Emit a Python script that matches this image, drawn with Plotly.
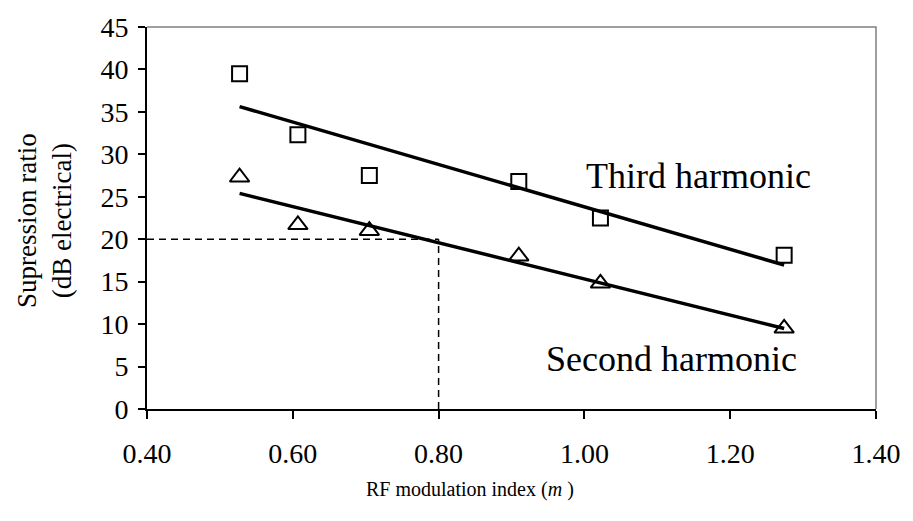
import numpy as np
import plotly.graph_objects as go

# Measured suppression ratio vs RF modulation index
m_index = [0.527, 0.607, 0.705, 0.910, 1.022, 1.274]
third_harmonic = [39.5, 32.3, 27.5, 26.8, 22.5, 18.1]
second_harmonic = [27.3, 21.7, 21.0, 18.0, 14.8, 9.5]

# Operating-point guide (20 dB suppression at m = 0.80)
guide_ratio = 20
guide_m = 0.80

x_ticks = [0.40, 0.60, 0.80, 1.00, 1.20, 1.40]
y_ticks = [0, 5, 10, 15, 20, 25, 30, 35, 40, 45]

FONT = "Liberation Serif"
W, H = 913, 521
ML, MR, MT, MB = 147, 37, 19, 112

fig = go.Figure()


def linear_fit(x, y):
    slope, intercept = np.polyfit(x, y, 1)
    xs = [min(x), max(x)]
    return xs, [slope * v + intercept for v in xs]


# Dashed guide lines
dash = dict(color="black", width=1.5, dash="7px,5px")
fig.add_trace(go.Scatter(x=[x_ticks[0], guide_m], y=[guide_ratio, guide_ratio],
                         mode="lines", line=dash, hoverinfo="skip"))
fig.add_trace(go.Scatter(x=[guide_m, guide_m], y=[y_ticks[0], guide_ratio],
                         mode="lines", line=dash, hoverinfo="skip"))

# Least-squares trend lines
for ys in (third_harmonic, second_harmonic):
    fx, fy = linear_fit(m_index, ys)
    fig.add_trace(go.Scatter(x=fx, y=fy, mode="lines",
                             line=dict(color="black", width=3.5)))

# Data points
fig.add_trace(go.Scatter(
    x=m_index, y=third_harmonic, mode="markers", name="Third harmonic",
    marker=dict(symbol="square-open", size=15, color="black",
                line=dict(width=2, color="black"))))
fig.add_trace(go.Scatter(
    x=m_index, y=second_harmonic, mode="markers", name="Second harmonic",
    marker=dict(symbol="triangle-up-open", size=17, color="black",
                line=dict(width=2, color="black"))))

# Gray frame on top and right of the plotting area
fig.add_shape(type="path", xref="x domain", yref="y domain",
              path="M 0 1 L 1 1 L 1 0", line=dict(color="#808080", width=1.5))

axis_style = dict(showgrid=False, zeroline=False, showline=True,
                  linecolor="black", linewidth=2, ticks="outside",
                  tickwidth=2, tickcolor="black",
                  tickfont=dict(size=28, family=FONT, color="black"))

plot_w = W - ML - MR
plot_h = H - MT - MB


def px_to_paper(px, py):
    return (px - ML) / plot_w, (H - MB - py) / plot_h


xt_x, xt_y = px_to_paper(470, 491)
yt_x, yt_y = px_to_paper(45, 217)

fig.update_layout(
    width=W, height=H,
    margin=dict(l=ML, r=MR, t=MT, b=MB),
    paper_bgcolor="white", plot_bgcolor="white",
    showlegend=False,
    font=dict(family=FONT, color="black", size=26),
    xaxis=dict(range=[0.4, 1.4], tickvals=x_ticks, tickformat=".2f",
               ticklen=8, ticklabelstandoff=10, **axis_style),
    yaxis=dict(range=[0, 45], tickvals=y_ticks,
               ticklen=7, ticklabelstandoff=4, **axis_style),
    annotations=[
        dict(text="Third harmonic", x=1.157, y=27.4, xref="x", yref="y",
             xanchor="center", yanchor="middle", showarrow=False,
             font=dict(size=36)),
        dict(text="Second harmonic", x=1.119, y=5.9, xref="x", yref="y",
             xanchor="center", yanchor="middle", showarrow=False,
             font=dict(size=36)),
        dict(text="RF modulation index (<i>m</i> )", x=xt_x, y=xt_y,
             xref="paper", yref="paper", xanchor="center", yanchor="middle",
             showarrow=False, font=dict(size=20)),
        dict(text="Supression ratio<br>(dB electrical)", x=yt_x, y=yt_y,
             xref="paper", yref="paper", xanchor="center", yanchor="middle",
             showarrow=False, textangle=-90, font=dict(size=27)),
    ],
)

fig.write_html("out.html")
